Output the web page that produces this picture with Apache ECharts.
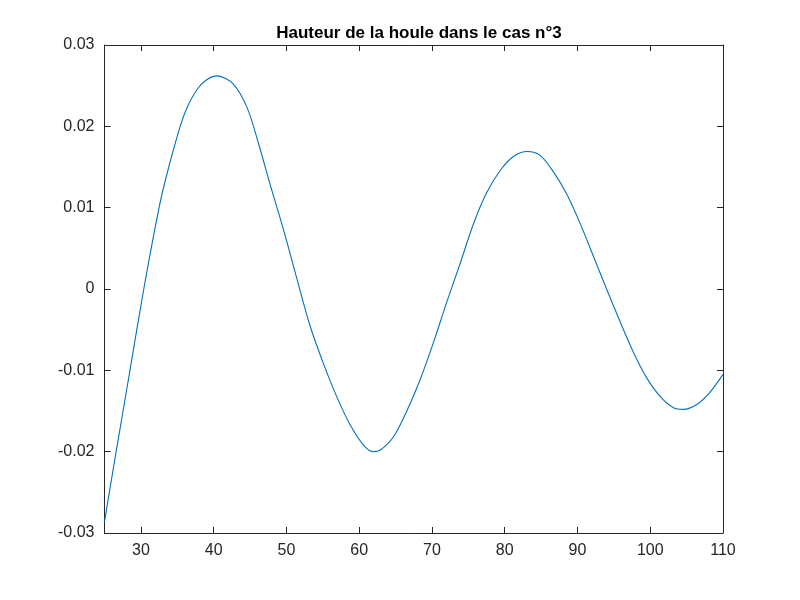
<!DOCTYPE html>
<html>
<head>
<meta charset="utf-8">
<script src="https://cdn.jsdelivr.net/npm/echarts@6/dist/echarts.min.js"></script>
<style>html,body{margin:0;padding:0;background:#fff;}#c{width:800px;height:600px;}</style>
</head>
<body>
<div id="c"></div>
<script>
const titleText = "Hauteur de la houle dans le cas n°3";
const xValues = [25, 26.6, 28.5, 30.4, 32.5, 33.6, 35.4, 36.4, 37.7, 39.0, 40.5, 42.7, 44.6, 46.2, 47.75, 49.6, 51.4, 53.2, 55.1, 56.9, 58.7, 60.6, 61.9, 62.9, 64.7, 66.5, 68.4, 70.2, 72.0, 73.9, 75.7, 77.5, 79.4, 81.2, 83.1, 84.9, 86.7, 88.5, 90.35, 92.2, 94.0, 95.85, 97.7, 99.5, 101.35, 103.2, 104.55, 106.4, 108.2, 110];
const yValues = [-0.0286, -0.0200, -0.0100, 0.0000, 0.0100, 0.0142, 0.0200, 0.0224, 0.0245, 0.0257, 0.0262, 0.0252, 0.0223, 0.0178, 0.0129, 0.0073, 0.0014, -0.0044, -0.0092, -0.0132, -0.0166, -0.0192, -0.0200, -0.0198, -0.0182, -0.0151, -0.0111, -0.0066, -0.0017, 0.0032, 0.0080, 0.0118, 0.0146, 0.0163, 0.0169, 0.0164, 0.0144, 0.0117, 0.0081, 0.0040, 0.0000, -0.0040, -0.0078, -0.0109, -0.0132, -0.0146, -0.0148, -0.0142, -0.0127, -0.0105];
const xTicks = [30, 40, 50, 60, 70, 80, 90, 100, 110];
const yTicks = [-0.03, -0.02, -0.01, 0, 0.01, 0.02, 0.03];

const data = xValues.map((x, i) => [x, yValues[i]]);
const axisColor = '#262626';
const font = 'Liberation Sans, Arial, Helvetica, sans-serif';

function xAx(pos, showLabel) {
  return {
    type: 'value', position: pos, min: 25, max: 110,
    axisLine: {show: true, onZero: false, lineStyle: {color: axisColor, width: 1}},
    axisTick: {show: true, inside: true, length: 6, customValues: xTicks, lineStyle: {color: axisColor}},
    axisLabel: {show: showLabel, customValues: xTicks, color: axisColor, fontSize: 16, fontFamily: font, margin: 10},
    splitLine: {show: false}
  };
}
function yAx(pos, showLabel) {
  return {
    type: 'value', position: pos, min: -0.03, max: 0.03,
    axisLine: {show: true, onZero: false, lineStyle: {color: axisColor, width: 1}},
    axisTick: {show: true, inside: true, length: 6, customValues: yTicks, lineStyle: {color: axisColor}},
    axisLabel: {show: showLabel, customValues: yTicks, color: axisColor, fontSize: 16, fontFamily: font, margin: 10,
      formatter: v => (Math.abs(v) < 1e-9 ? '0' : String(Math.round(v * 100) / 100))},
    splitLine: {show: false}
  };
}

const chart = echarts.init(document.getElementById('c'), null, {renderer: 'canvas'});
chart.setOption({
  animation: false,
  backgroundColor: '#ffffff',
  title: {
    text: titleText, left: 414, top: 20, textAlign: 'center',
    textStyle: {fontSize: 17, fontWeight: 'bold', color: '#000', fontFamily: font}
  },
  grid: {left: 104.5, right: 77, top: 45, bottom: 67, containLabel: false},
  xAxis: [xAx('bottom', true), xAx('top', false)],
  yAxis: [yAx('left', true), yAx('right', false)],
  series: [{
    type: 'line', xAxisIndex: 0, yAxisIndex: 0, data: data,
    showSymbol: false, smooth: 0.3, clip: true,
    lineStyle: {color: '#0072BD', width: 1.1}
  }]
});
</script>
</body>
</html>
